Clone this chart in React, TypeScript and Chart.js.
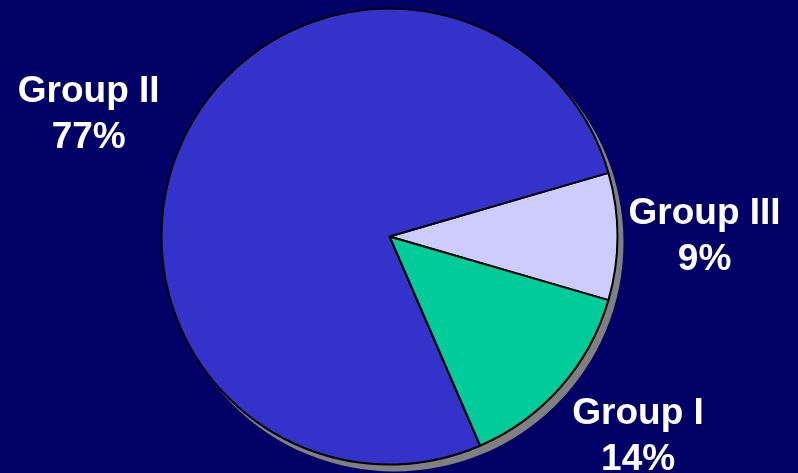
import React, { useEffect, useRef } from "react";
import { Chart, registerables } from "chart.js";

Chart.register(...registerables);

const categories = ["Group III", "Group I", "Group II"];
const values = [9, 14, 77];
const sliceColors = ["#CCCCFF", "#00CC99", "#3333CC"];

// label nudges (px) from the mid-angle anchor
const labelNudges = [
  [-3, 0.5],
  [10, -10],
  [-13, 13.5],
];

const shadowPlugin = {
  id: "pieShadow",
  beforeDatasetsDraw(chart: any) {
    const meta = chart.getDatasetMeta(0);
    const arc = meta.data[0];
    if (!arc) return;
    const { x, y, outerRadius } = arc.getProps(["x", "y", "outerRadius"], true);
    const ctx = chart.ctx;
    ctx.save();
    ctx.fillStyle = "#808080";
    ctx.beginPath();
    ctx.arc(x + 5, y + 6, outerRadius + 1, 0, Math.PI * 2);
    ctx.fill();
    ctx.restore();
  },
};

const labelPlugin = {
  id: "pieLabels",
  afterDatasetsDraw(chart: any) {
    const meta = chart.getDatasetMeta(0);
    const ctx = chart.ctx;
    ctx.save();
    ctx.fillStyle = "#FFFFFF";
    ctx.font = "bold 37px 'Liberation Sans', Arial, sans-serif";
    ctx.textAlign = "center";
    ctx.textBaseline = "middle";
    meta.data.forEach((arc: any, i: number) => {
      const { x, y, startAngle, endAngle, outerRadius } = arc.getProps(
        ["x", "y", "startAngle", "endAngle", "outerRadius"],
        true
      );
      const mid = (startAngle + endAngle) / 2;
      const d = outerRadius * 1.395;
      const cx = x + Math.cos(mid) * d + labelNudges[i][0];
      const cy = y + Math.sin(mid) * d + labelNudges[i][1];
      ctx.fillText(categories[i], cx, cy - 23);
      ctx.fillText(values[i] + "%", cx, cy + 23);
    });
    ctx.restore();
  },
};

export default function App() {
  const ref = useRef<HTMLCanvasElement>(null);

  useEffect(() => {
    document.body.style.margin = "0";
    document.body.style.background = "#000066";
    const canvas = ref.current!;
    const chart = new Chart(canvas, {
      type: "pie",
      data: {
        labels: categories,
        datasets: [
          {
            data: values,
            backgroundColor: sliceColors,
            borderColor: "#000000",
            borderWidth: 2,
          },
        ],
      },
      options: {
        animation: false,
        responsive: false,
        devicePixelRatio: 1,
        rotation: 73.8,
        radius: 228,
        layout: { padding: { left: 0, right: 19, top: 0, bottom: 0 } },
        plugins: {
          legend: { display: false },
          tooltip: { enabled: false },
        },
      },
      plugins: [shadowPlugin, labelPlugin],
    });
    return () => chart.destroy();
  }, []);

  return (
    <div style={{ width: 798, height: 473, background: "#000066" }}>
      <canvas ref={ref} width={798} height={473} style={{ display: "block" }} />
    </div>
  );
}
